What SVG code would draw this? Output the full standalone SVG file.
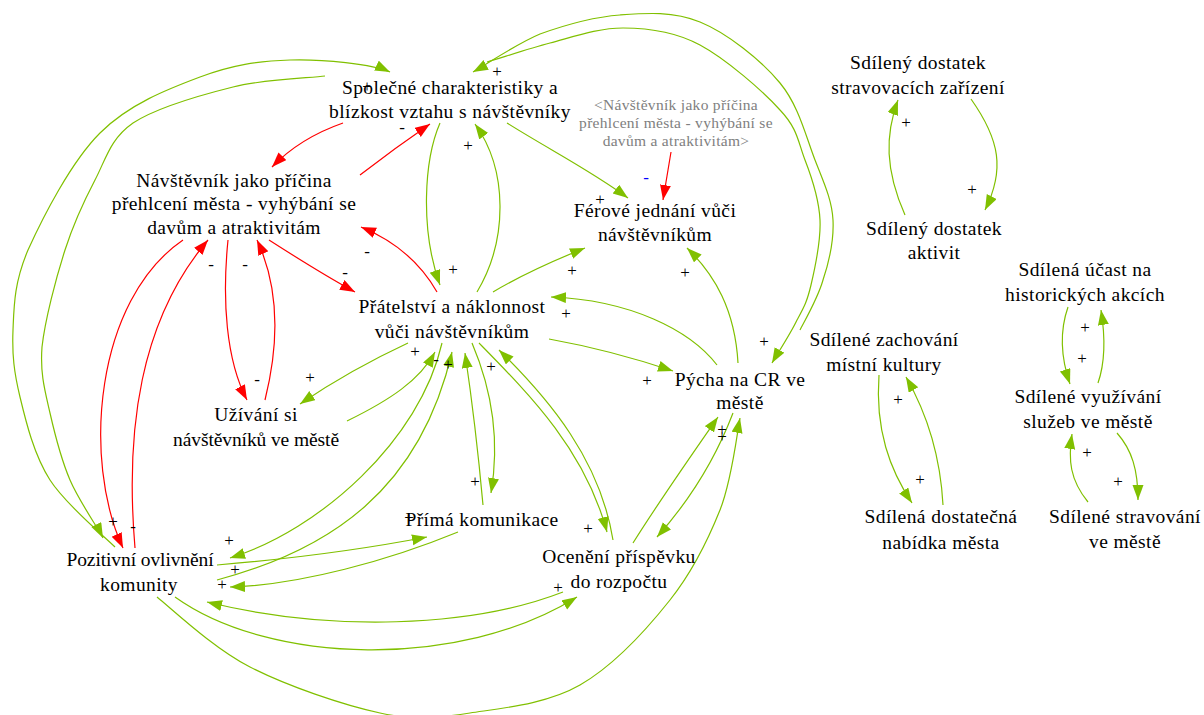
<svg xmlns="http://www.w3.org/2000/svg" width="1204" height="715" viewBox="0 0 1204 715">
  <style>
    .n { font-family: "Liberation Serif", "Times New Roman", serif; font-size: 19.5px; letter-spacing: 0.4px; fill: #000; text-anchor: middle; }
    .tight { letter-spacing: -0.1px; }
    .gh { font-family: "Liberation Serif", "Times New Roman", serif; font-size: 15.5px; letter-spacing: 0.3px; fill: #808080; text-anchor: middle; }
    .p { font-family: "Liberation Serif", "Times New Roman", serif; font-size: 17px; fill: #000; text-anchor: middle; }
    .pb { fill: #0000ff; }
    .cg { fill: none; stroke: #80c000; stroke-width: 1.2; marker-end: url(#ag); }
    .cr { fill: none; stroke: #ff0000; stroke-width: 1.2; marker-end: url(#ar); }
  </style>
  <defs>
    <marker id="ag" markerUnits="userSpaceOnUse" markerWidth="16" markerHeight="12" refX="15" refY="5.5" orient="auto">
      <path d="M0,0 L15,5.5 L0,11 z" fill="#80c000"/>
    </marker>
    <marker id="ar" markerUnits="userSpaceOnUse" markerWidth="16" markerHeight="12" refX="15" refY="5.5" orient="auto">
      <path d="M0,0 L15,5.5 L0,11 z" fill="#ff0000"/>
    </marker>
  </defs>
  <rect width="1204" height="715" fill="#fff"/>

  <!-- causal links -->
  <g id="connectors">
    <!-- negative links -->
    <path class="cr" d="M343,123 Q300,138 272,167"/>
    <path class="cr" d="M360,175 Q395,148 430,124"/>
    <path class="cr" d="M437,292 Q412,248 361,227"/>
    <path class="cr" d="M269,240 Q322,274 355,292"/>
    <path class="cr" d="M228,240 C222,300 226,360 247,400"/>
    <path class="cr" d="M265,400 C280,340 278,285 257,240"/>
    <path class="cr" d="M183,240 C95,300 82,460 123,548"/>
    <path class="cr" d="M135,548 C125,430 140,320 208,240"/>
    <path class="cr" d="M671,152 L663,200"/>

    <!-- positive links -->
    <path class="cg" d="M115,547 C104,536 66,505 50,480 C34,455 26,422 20,397 C14,372 12,355 13,330 C14,306 14,283 28,250 C43,217 71,162 100,133 C129,104 168,89 200,77 C232,65 258,61 290,60 C322,59 373,64 390,72"/>
    <path class="cg" d="M325,76 C310,78 265,79 233,87 C201,95 156,108 133,123 C110,139 106,159 95,180 C84,201 74,222 65,250 C56,278 45,320 42,347 C40,374 45,391 50,413 C55,435 61,459 70,480 C79,501 98,528 103,538"/>
    <path class="cg" d="M800,330 C804,322 818,298 823,280 C829,262 834,240 833,220 C832,200 824,183 815,160 C806,137 799,106 780,83 C761,60 727,33 700,22 C673,11 647,13 620,15 C593,17 565,25 540,34 C516,44 484,66 473,72"/>
    <path class="cg" d="M487,62 C498,59 527,49 550,43 C573,37 598,28 623,28 C648,28 674,31 700,45 C726,59 763,91 780,110 C798,129 798,142 805,160 C812,178 819,199 820,220 C821,241 815,268 811,285 C807,302 804,307 797,320 C791,333 776,356 772,363"/>
    <path class="cg" d="M157,597 C172,609 213,648 250,667 C287,686 343,705 380,713 C417,721 437,718 470,713 C503,708 547,704 580,685 C613,666 647,629 670,600 C693,571 708,540 720,510 C732,480 737,433 740,418"/>
    <path class="cg" d="M440,123 C424,160 420,230 440,285"/>
    <path class="cg" d="M477,292 C508,240 508,170 475,124"/>
    <path class="cg" d="M507,123 C550,150 590,170 628,198"/>
    <path class="cg" d="M493,292 Q530,270 585,248"/>
    <path class="cg" d="M738,363 C735,310 715,275 687,248"/>
    <path class="cg" d="M717,365 C690,330 630,300 551,297"/>
    <path class="cg" d="M549,339 Q610,350 673,371"/>
    <path class="cg" d="M408,343 Q350,370 300,404"/>
    <path class="cg" d="M347,421 C390,400 420,380 435,352"/>
    <path class="cg" d="M217,580 C330,550 420,490 452,352"/>
    <path class="cg" d="M442,343 C420,440 320,530 230,558"/>
    <path class="cg" d="M472,343 C492,390 500,440 491,493"/>
    <path class="cg" d="M483,505 C478,450 472,400 465,353"/>
    <path class="cg" d="M479,343 C530,395 585,450 607,532"/>
    <path class="cg" d="M613,540 C600,460 550,400 499,350"/>
    <path class="cg" d="M733,413 C715,460 690,500 657,537"/>
    <path class="cg" d="M633,543 C660,500 695,450 718,417"/>
    <path class="cg" d="M217,565 C300,558 370,548 427,537"/>
    <path class="cg" d="M458,532 C390,560 300,585 230,587"/>
    <path class="cg" d="M563,592 C470,628 330,632 207,602"/>
    <path class="cg" d="M175,597 C270,665 460,670 577,597"/>

    <path class="cg" d="M905,215 C885,170 885,135 898,100"/>
    <path class="cg" d="M971,99 C1000,140 1005,170 985,210"/>
    <path class="cg" d="M879,375 C875,430 890,470 912,503"/>
    <path class="cg" d="M943,505 C940,450 925,410 906,377"/>
    <path class="cg" d="M1068,307 C1060,330 1060,355 1070,384"/>
    <path class="cg" d="M1098,383 C1106,360 1105,335 1101,310"/>
    <path class="cg" d="M1088,502 C1070,480 1068,460 1072,434"/>
    <path class="cg" d="M1117,433 C1132,450 1138,470 1138,500"/>
  </g>

  <!-- link polarities -->
  <g id="polarities">
    <text class="p" x="367" y="92">+</text>
    <text class="p" x="497" y="77">+</text>
    <text class="p" x="402" y="133">-</text>
    <text class="p" x="468" y="151">+</text>
    <text class="p" x="600" y="205">+</text>
    <text class="p pb" x="646" y="183">-</text>
    <text class="p" x="453" y="275">+</text>
    <text class="p" x="367" y="257">-</text>
    <text class="p" x="345" y="278">-</text>
    <text class="p" x="211" y="270">-</text>
    <text class="p" x="245" y="270">-</text>
    <text class="p" x="257" y="385">-</text>
    <text class="p" x="310" y="383">+</text>
    <text class="p" x="572" y="276">+</text>
    <text class="p" x="685" y="278">+</text>
    <text class="p" x="566" y="319">+</text>
    <text class="p" x="647" y="386">+</text>
    <text class="p" x="764" y="347">+</text>
    <text class="p" x="415" y="357">+</text>
    <text class="p" x="436" y="365">-</text>
    <text class="p" x="448" y="370">+</text>
    <text class="p" x="491" y="372">+</text>
    <text class="p" x="475" y="487">+</text>
    <text class="p" x="409" y="523">+</text>
    <text class="p" x="588" y="534">+</text>
    <text class="p" x="722" y="435">+</text>
    <text class="p" x="722" y="442">+</text>
    <text class="p" x="113" y="527">+</text>
    <text class="p" x="133" y="532">-</text>
    <text class="p" x="229" y="546">+</text>
    <text class="p" x="235" y="575">+</text>
    <text class="p" x="222" y="590">+</text>
    <text class="p" x="558" y="593">+</text>
    <text class="p" x="906" y="128">+</text>
    <text class="p" x="972" y="195">+</text>
    <text class="p" x="1085" y="333">+</text>
    <text class="p" x="1082" y="364">+</text>
    <text class="p" x="898" y="405">+</text>
    <text class="p" x="920" y="485">+</text>
    <text class="p" x="1087" y="458">+</text>
    <text class="p" x="1118" y="487">+</text>
  </g>

  <!-- variables -->
  <g id="spolecne-charakteristiky">
    <text class="n"><tspan x="450" y="94">Společné charakteristiky a</tspan><tspan x="450" y="118">blízkost vztahu s návštěvníky</tspan></text>
  </g>
  <g id="navstevnik-pricina">
    <text class="n"><tspan x="234" y="187">Návštěvník jako příčina</tspan><tspan x="234" y="210">přehlcení města - vyhýbání se</tspan><tspan x="234" y="234">davům a atraktivitám</tspan></text>
  </g>
  <g id="navstevnik-pricina-shadow">
    <text class="gh"><tspan x="676" y="110">&lt;Návštěvník jako příčina</tspan><tspan x="676" y="128">přehlcení města - vyhýbání se</tspan><tspan x="676" y="146">davům a atraktivitám&gt;</tspan></text>
  </g>
  <g id="ferove-jednani">
    <text class="n"><tspan x="655" y="217">Férové jednání vůči</tspan><tspan x="655" y="241">návštěvníkům</tspan></text>
  </g>
  <g id="pratelstvi">
    <text class="n"><tspan x="452" y="313">Přátelství a náklonnost</tspan><tspan x="452" y="338">vůči návštěvníkům</tspan></text>
  </g>
  <g id="uzivani-si">
    <text class="n"><tspan x="256" y="421">Užívání si</tspan><tspan x="256" y="446" class="tight">návštěvníků ve městě</tspan></text>
  </g>
  <g id="pycha">
    <text class="n"><tspan x="740" y="386">Pýcha na CR ve</tspan><tspan x="740" y="409">městě</tspan></text>
  </g>
  <g id="prima-komunikace">
    <text class="n"><tspan x="482" y="526">Přímá komunikace</tspan></text>
  </g>
  <g id="oceneni">
    <text class="n"><tspan x="619" y="563">Ocenění příspěvku</tspan><tspan x="619" y="588">do rozpočtu</tspan></text>
  </g>
  <g id="pozitivni-ovlivneni">
    <text class="n"><tspan x="140" y="566" class="tight">Pozitivní ovlivnění</tspan><tspan x="139" y="591">komunity</tspan></text>
  </g>
  <g id="dostatek-stravovacich">
    <text class="n"><tspan x="918" y="69">Sdílený dostatek</tspan><tspan x="918" y="94">stravovacích zařízení</tspan></text>
  </g>
  <g id="dostatek-aktivit">
    <text class="n"><tspan x="934" y="235">Sdílený dostatek</tspan><tspan x="934" y="259">aktivit</tspan></text>
  </g>
  <g id="ucast-historicke-akce">
    <text class="n"><tspan x="1085" y="276">Sdílená účast na</tspan><tspan x="1085" y="301">historických akcích</tspan></text>
  </g>
  <g id="zachovani-kultury">
    <text class="n"><tspan x="884" y="346">Sdílené zachování</tspan><tspan x="884" y="371">místní kultury</tspan></text>
  </g>
  <g id="vyuzivani-sluzeb">
    <text class="n"><tspan x="1088" y="403">Sdílené využívání</tspan><tspan x="1088" y="428">služeb ve městě</tspan></text>
  </g>
  <g id="nabidka-mesta">
    <text class="n"><tspan x="941" y="523">Sdílená dostatečná</tspan><tspan x="941" y="549">nabídka města</tspan></text>
  </g>
  <g id="stravovani">
    <text class="n"><tspan x="1125" y="523">Sdílené stravování</tspan><tspan x="1125" y="548">ve městě</tspan></text>
  </g>
</svg>
